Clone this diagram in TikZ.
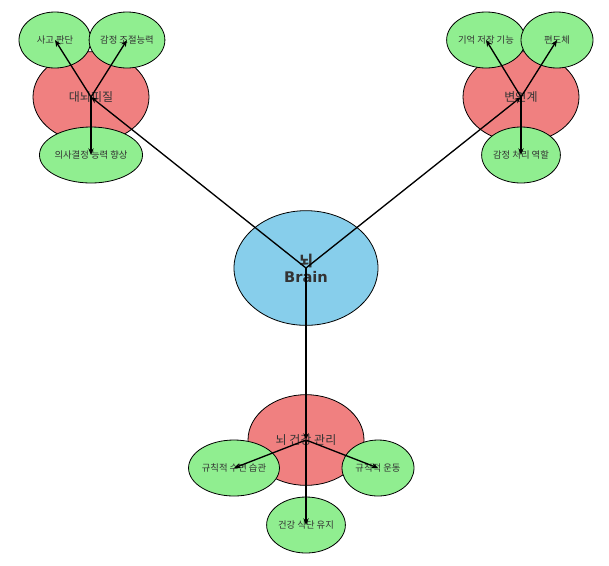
\documentclass[tikz,border=0pt]{standalone}
\usepackage{fontspec}
\setmainfont{DejaVu Sans}
\newfontfamily\cjk{Noto Sans CJK KR}
\usetikzlibrary{shapes.geometric,arrows.meta}
\definecolor{sky}{HTML}{87CEEB}
\definecolor{coral}{HTML}{F08080}
\definecolor{lgreen}{HTML}{90EE90}
\definecolor{txt}{HTML}{333333}
\begin{document}
\begin{tikzpicture}[x=0.75pt,y=-0.75pt,
  base/.style={ellipse,draw=black,line width=0.6pt,inner sep=0pt,text=txt,align=center},
  root/.style={base,fill=sky,minimum width=108pt,minimum height=86pt,font=\bfseries\fontsize{11}{12}\selectfont},
  mid/.style={base,fill=coral,minimum width=87pt,minimum height=68pt,font=\cjk\fontsize{9}{10}\selectfont},
  leaf/.style={base,fill=lgreen,minimum width=54pt,minimum height=42pt,font=\cjk\fontsize{7}{8}\selectfont},
  arr/.style={-{Stealth[length=5pt,width=4pt]},line width=1pt}]
\useasboundingbox (0,0) rectangle (609,565);
\node[root] (c) at (306,268) {{\cjk 뇌}\\Brain};
\node[mid] (l) at (91,97) {대뇌피질};
\node[mid] (r) at (521,97) {변연계};
\node[mid] (b) at (306,440) {뇌 건강 관리};
\node[leaf] (l1) at (55,40) {사고 판단};
\node[leaf] (l2) at (127,40) {감정 조절능력};
\node[leaf] (l3) at (91,155) {의사결정 능력 향상};
\node[leaf] (r1) at (486,40) {기억 저장 기능};
\node[leaf] (r2) at (557,40) {편도체};
\node[leaf] (r3) at (521,155) {감정 처리 역할};
\node[leaf] (b1) at (234,468) {규칙적 수면 습관};
\node[leaf] (b2) at (378,468) {규칙적 운동};
\node[leaf] (b3) at (306,525) {건강 식단 유지};
\foreach \p/\q in {c/l,c/r,c/b,l/l1,l/l2,l/l3,r/r1,r/r2,r/r3,b/b1,b/b2,b/b3}
  \draw[arr] (\p.center) -- (\q.center);
\end{tikzpicture}
\end{document}
